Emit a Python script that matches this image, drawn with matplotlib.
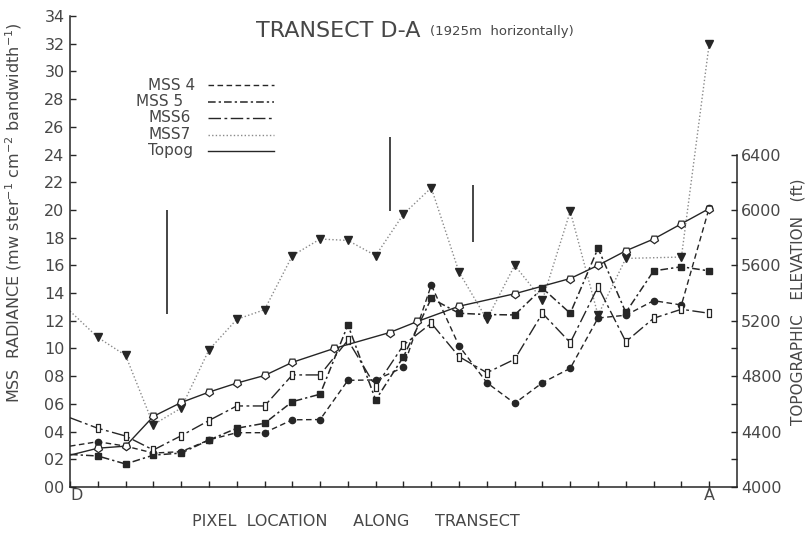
import matplotlib
matplotlib.use("Agg")
import matplotlib.pyplot as plt
from matplotlib.lines import Line2D

plt.rcParams['font.family'] = ['DejaVu Sans']
plt.rcParams['mathtext.fontset'] = 'dejavusans'

INK = '#262626'
TXT = '#474747'

# pixel positions along the transect (D = 0 ... A = 23)
pixel = list(range(24))

# MSS band radiances along the transect
mss4 = [2.95, 3.27, 2.95, 2.45, 2.55, 3.4, 3.92, 3.92, 4.85, 4.87, 7.7, 7.73,
        8.64, 14.58, 10.18, 7.53, 6.04, 7.53, 8.57, 12.2, 12.4, 13.45, 13.14, 20.15]
mss5 = [2.35, 2.24, 1.66, 2.3, 2.45, 3.39, 4.24, 4.6, 6.16, 6.7, 11.7, 6.28,
        9.41, 13.62, 12.54, 12.45, 12.42, 14.35, 12.54, 17.23, 12.6, 15.6, 15.9, 15.6]
mss6 = [5.0, 4.24, 3.68, 2.67, 3.7, 4.8, 5.85, 5.85, 8.09, 8.09, 10.6, 7.24,
        10.25, 11.82, 9.41, 8.25, 9.22, 12.54, 10.42, 14.46, 10.49, 12.18, 12.83, 12.54]
mss7 = [12.7, 10.8, 9.5, 4.5, 5.7, 9.9, 12.1, 12.8, 16.7, 17.9, 17.8, 16.7,
        19.7, 21.6, 15.5, 12.1, 16.0, 13.5, 19.9, 12.4, 16.5, 16.55, 16.6, 32.0]

# topographic profile (ft)
topog_x = [0, 1, 2, 3, 4, 5, 6, 7, 8, 9.5, 11.5, 12.5, 14, 16, 18, 19, 20, 21, 22, 23]
topog_ft = [4230, 4280, 4295, 4510, 4610, 4685, 4750, 4805, 4900, 5000, 5115, 5195,
            5305, 5395, 5505, 5600, 5705, 5790, 5900, 6010]

# boundary bars (pixel position, lower and upper radiance)
bar_x = [3.5, 11.5, 14.5]
bar_lo = [12.5, 19.95, 17.7]
bar_hi = [20.0, 25.25, 21.8]

radiance_ticks = list(range(0, 35, 2))
radiance_labels = ['00', '02', '04', '06', '08', '10', '12', '14', '16', '18',
                   '20', '22', '24', '26', '28', '30', '32', '34']
elev_ticks = [4000, 4400, 4800, 5200, 5600, 6000, 6400]
elev_minor = [4200, 4600, 5000, 5400, 5800, 6200]

W, H = 808, 535
fig = plt.figure(figsize=(W / 100, H / 100), dpi=100)
x0, x1, y0, y1 = 70, 737, 487, 16
ax = fig.add_axes([x0 / W, 1 - y0 / H, (x1 - x0) / W, (y0 - y1) / H])
ax.set_xlim(0, 24)
ax.set_ylim(0, 34)

tall_box = [(-0.55, -1), (0.55, -1), (0.55, 1), (-0.55, 1), (-0.55, -1)]
down_pent = (5, 0, 180)

styles = {
    'MSS 4': dict(color=INK, lw=1.0, ls=(0, (4, 2.5)), marker='o', ms=4.5,
                  mfc=INK, mec=INK),
    'MSS 5': dict(color=INK, lw=1.1, ls=(0, (5, 2, 1.5, 2)), marker='s', ms=4.5,
                  mfc=INK, mec=INK),
    'MSS6': dict(color=INK, lw=1.0, ls=(0, (9, 2.5, 2, 2.5)), marker=tall_box, ms=6,
                 mfc='white', mec=INK, mew=0.9),
    'MSS7': dict(color='#8a8a8a', lw=1.0, ls=(0, (1, 1.6)), marker='v', ms=5.5,
                 mfc=INK, mec=INK),
    'Topog': dict(color=INK, lw=1.0, ls='-', marker=down_pent, ms=6,
                  mfc='white', mec=INK, mew=0.9),
}

marks = list(range(1, 24))
ax.plot(pixel, mss4, markevery=marks, **styles['MSS 4'], zorder=3)
ax.plot(pixel, mss5, markevery=marks, **styles['MSS 5'], zorder=3)
ax.plot(pixel, mss6, markevery=marks, **styles['MSS6'], zorder=3)
ax.plot(pixel, mss7, markevery=[i for i in marks if i != 21], **styles['MSS7'], zorder=2)

ax.vlines(bar_x, bar_lo, bar_hi, color=INK, lw=1.2)

# axes styling
for s in ('top', 'right'):
    ax.spines[s].set_visible(False)
for s in ('left', 'bottom'):
    ax.spines[s].set_color(INK)
    ax.spines[s].set_linewidth(1.1)

ax.set_yticks(radiance_ticks)
ax.set_yticklabels(radiance_labels)
ax.set_xticks(pixel)
ax.set_xticklabels(['D'] + [''] * 22 + ['A'])
ax.tick_params(axis='both', direction='in', length=4, width=1, color=INK,
               labelcolor=TXT, labelsize=11.5)
ax.tick_params(axis='y', pad=4)
ax.tick_params(axis='x', pad=1)
for lab in ax.get_xticklabels():
    lab.set_horizontalalignment('left' if lab.get_text() == 'D' else 'center')

# elevation axis
ax2 = ax.twinx()
ax2.set_ylim(4000, 4000 + 34 * 100)
ax2.plot(topog_x, topog_ft, markevery=list(range(1, len(topog_x))),
         **styles['Topog'], zorder=4)
for s in ('top', 'left', 'bottom'):
    ax2.spines[s].set_visible(False)
ax2.spines['right'].set_bounds(4000, 6400)
ax2.spines['right'].set_color(INK)
ax2.spines['right'].set_linewidth(1.1)
ax2.set_yticks(elev_ticks)
ax2.set_yticks(elev_minor, minor=True)
ax2.tick_params(axis='y', which='both', direction='in', length=4, width=1,
                color=INK, labelcolor=TXT, labelsize=11.5, pad=3)

# legend drawn as labelled line samples
leg_rows = [('MSS 4', 85, 148), ('MSS 5', 101.5, 136), ('MSS6', 118, 148),
            ('MSS7', 134.5, 148), ('Topog', 151, 148)]
for name, py, tx in leg_rows:
    fy = (y0 - py) / (y0 - y1)
    ax.text((tx - x0) / (x1 - x0), fy, name, transform=ax.transAxes,
            ha='left', va='center', fontsize=11, color=TXT)
    st = dict(styles[name])
    st.pop('marker'); st.pop('ms'); st.pop('mfc'); st.pop('mec'); st.pop('mew', None)
    ax.add_line(Line2D([(208 - x0) / (x1 - x0), (274 - x0) / (x1 - x0)], [fy, fy],
                       transform=ax.transAxes, clip_on=False, **st))

# titles and axis labels
fig.text(256 / W, 1 - 31 / H, 'TRANSECT D-A', fontsize=16, color=TXT,
         ha='left', va='center')
fig.text(430 / W, 1 - 32 / H, '(1925m  horizontally)', fontsize=9.5, color=TXT,
         ha='left', va='center')
fig.text(356 / W, 1 - 521 / H, 'PIXEL  LOCATION     ALONG     TRANSECT',
         fontsize=11.5, color=TXT, ha='center', va='center')
fig.text(14 / W, 1 - 213 / H,
         r'MSS  RADIANCE (mw ster$^{-1}$ cm$^{-2}$ bandwidth$^{-1}$)',
         fontsize=11.5, color=TXT, rotation=90, ha='center', va='center')
fig.text(798 / W, 1 - 302 / H, 'TOPOGRAPHIC   ELEVATION   (ft)',
         fontsize=11, color=TXT, rotation=90, ha='center', va='center')

fig.savefig('out.png', dpi=100, facecolor='white')
